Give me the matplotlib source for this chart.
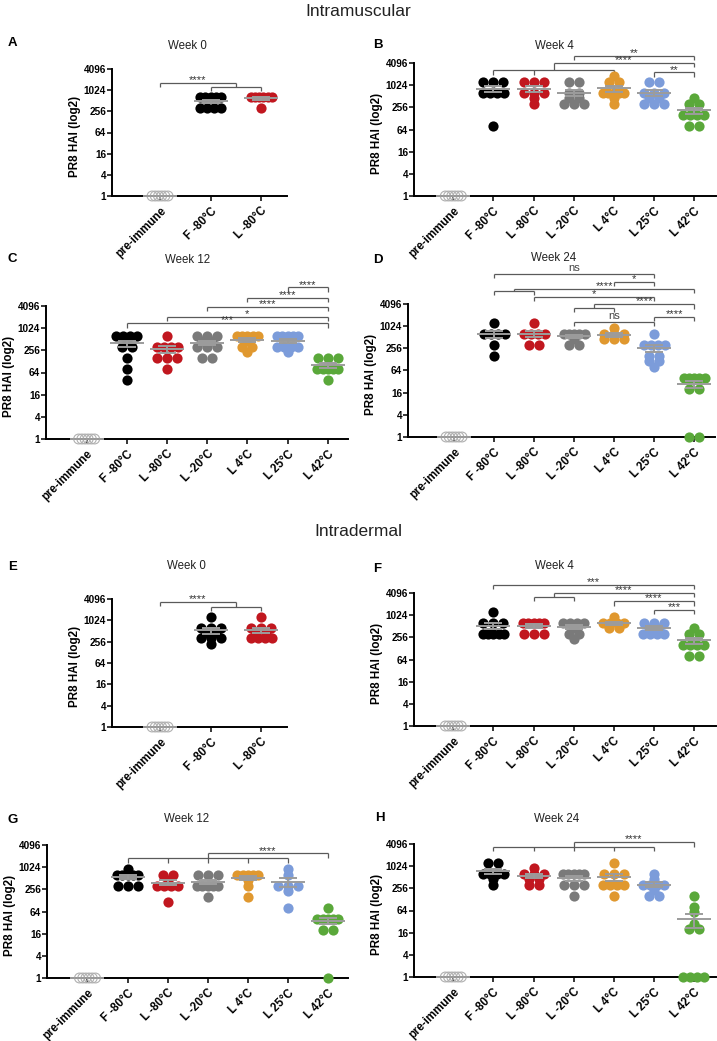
import numpy as np
import matplotlib
matplotlib.use('Agg')
import matplotlib.pyplot as plt

plt.rcParams['font.family'] = ['Liberation Sans', 'DejaVu Sans']

W, H = 717, 1041

groups = ['pre-immune', 'F -80°C', 'L -80°C', 'L -20°C', 'L 4°C', 'L 25°C', 'L 42°C']
group_colors = ['#a0a0a0', '#000000', '#c1171f', '#7a7a7a', '#e0982f', '#7c9cda', '#5aa83a']
yticks = [1, 4, 16, 64, 256, 1024, 4096]

pre_immune = [1, 1, 1, 1, 1, 1]

# HAI titres, one list per group
im_w0 = [pre_immune,
         [640, 640, 640, 640, 640, 320, 320, 320, 320],
         [640, 640, 640, 640, 640, 640, 320]]
im_w4 = [pre_immune,
         [1280, 1280, 1280, 640, 640, 640, 640, 80],
         [1280, 1280, 1280, 640, 640, 640, 453, 320],
         [1280, 1280, 640, 640, 453, 453, 320, 320, 320],
         [1810, 1280, 1280, 640, 640, 640, 640, 640, 453, 320],
         [1280, 1280, 640, 640, 640, 453, 453, 320, 320, 320],
         [453, 320, 320, 160, 160, 160, 160, 80, 80]]
im_w12 = [pre_immune,
          [640, 640, 640, 640, 453, 320, 320, 160, 80, 40],
          [640, 320, 320, 320, 320, 160, 160, 160, 80],
          [640, 640, 640, 453, 453, 320, 320, 320, 160, 160],
          [640, 640, 640, 640, 640, 453, 320, 320, 226],
          [640, 640, 640, 640, 640, 320, 320, 320, 320, 226],
          [160, 160, 160, 80, 80, 80, 80, 80, 40]]
im_w24 = [pre_immune,
          [1280, 640, 640, 640, 640, 320, 160],
          [1280, 640, 640, 640, 640, 320, 320],
          [640, 640, 640, 640, 640, 453, 320, 320],
          [905, 640, 640, 640, 453, 453, 453],
          [640, 320, 320, 320, 320, 160, 160, 113, 113, 80],
          [40, 40, 40, 40, 40, 20, 20, 1, 1]]

id_w0 = [pre_immune,
         [1280, 640, 640, 640, 453, 453, 320, 320, 320, 226],
         [1280, 640, 640, 640, 453, 453, 320, 320, 320, 320]]
id_w4 = [pre_immune,
         [1280, 640, 640, 640, 320, 320, 320, 320, 320],
         [640, 640, 640, 640, 640, 320, 320, 320],
         [640, 640, 640, 640, 453, 320, 320, 226],
         [905, 640, 640, 640, 640, 453, 453],
         [640, 640, 640, 453, 453, 320, 320, 320, 320],
         [453, 320, 320, 160, 160, 160, 160, 80, 80]]
id_w12 = [pre_immune,
          [905, 640, 640, 640, 640, 640, 320, 320, 320],
          [640, 640, 453, 320, 320, 320, 320, 113],
          [640, 640, 640, 320, 320, 320, 320, 320, 160],
          [640, 640, 640, 640, 640, 453, 320, 160],
          [905, 640, 320, 320, 320, 226, 80],
          [80, 40, 40, 40, 40, 40, 20, 20, 1]]
id_w24 = [pre_immune,
          [1280, 1280, 640, 640, 640, 640, 453, 320],
          [905, 640, 640, 640, 453, 453, 320, 320],
          [640, 640, 640, 640, 640, 320, 320, 320, 160],
          [1280, 640, 640, 640, 320, 320, 320, 320, 160],
          [640, 453, 320, 320, 320, 320, 226, 160, 160],
          [160, 80, 57, 28, 20, 20, 1, 1, 1, 1]]

# significance brackets: (left groups, right groups, height in log2, label, sub offset)
im_w0_sig = [([0], [1, 2], 10.71, '****', 0.44)]
im_w4_sig = [([3], [6], 12.66, '**', 0),
             ([1, 2, 4], [6], 12.0, '****', 0.66),
             ([5], [6], 11.15, '**', 0)]
im_w12_sig = [([5], [6], 13.68, '****', 0),
              ([4], [6], 12.71, '****', 0),
              ([3], [6], 11.94, '****', 0),
              ([2], [6], 11.04, '*', 0),
              ([1], [6], 10.44, '***', 0)]
im_w24_sig = [([1], [5], 14.71, 'ns', 0),
              ([4], [5], 14.02, '*', 0),
              ([1, 2], [6], 13.36, '****', 0.15),
              ([2], [5], 12.64, '*', 0),
              ([3, 4], [6], 11.97, '****', 0.3),
              ([5], [6], 10.86, '****', 0),
              ([3], [5], 10.35, 'ns', 0)]
id_w0_sig = [([0], [1, 2], 11.69, '****', 0.47)]
id_w4_sig = [([1], [6], 12.76, '***', 0),
             ([2, 3], [6], 12.0, '****', 0.36),
             ([4], [6], 11.25, '****', 0),
             ([5], [6], 10.49, '***', 0)]
id_w12_sig = [([1, 2, 3, 4, 5], [6], 11.24, '****', 0.45)]
id_w24_sig = [([1, 2, 3, 4, 5], [6], 12.15, '****', 0.39)]

# letter, title, data, brackets, axes box in px (l, t, r, b), xlim, letter xy, title xy
panels = [
    ('A', 'Week 0', im_w0, im_w0_sig, (112, 69, 287, 196), (-0.95, 2.51), (8, 43), (187, 46)),
    ('B', 'Week 4', im_w4, im_w4_sig, (414, 63, 716, 196), (-0.98, 6.55), (373, 45), (554, 46)),
    ('C', 'Week 12', im_w12, im_w12_sig, (46, 306, 348, 439), (-1.01, 6.5), (8, 259), (188, 260)),
    ('D', 'Week 24', im_w24, im_w24_sig, (408, 304, 715, 437), (-1.15, 6.52), (373, 260), (554, 258)),
    ('E', 'Week 0', id_w0, id_w0_sig, (112, 599, 287, 727), (-0.95, 2.51), (8, 567), (186, 566)),
    ('F', 'Week 4', id_w4, id_w4_sig, (414, 593, 716, 726), (-0.98, 6.55), (373, 569), (554, 566)),
    ('G', 'Week 12', id_w12, id_w12_sig, (47, 845, 348, 978), (-1.01, 6.5), (8, 820), (187, 819)),
    ('H', 'Week 24', id_w24, id_w24_sig, (414, 844, 716, 977), (-0.98, 6.55), (375, 818), (557, 819)),
]

LINE = '#9c9c9c'
BRK = '#5a5a5a'


def swarm(vals, pos, ppu, step, span):
    xs, ys = [], []
    for v in sorted(set(vals), reverse=True):
        k = vals.count(v)
        s = step if k < 2 else min(step, span / (k - 1))
        off = (np.arange(k) - (k - 1) / 2) * s / ppu
        xs.extend(pos + off)
        ys.extend([v] * k)
    return xs, ys


def bracket(ax, left, right, h, label, sub, tip=0.38):
    kw = dict(color=BRK, lw=0.9, clip_on=False, solid_capstyle='butt')

    def side(idx):
        if len(idx) == 1:
            ax.plot([idx[0], idx[0]], [2 ** h, 2 ** (h - tip)], **kw)
            return idx[0]
        hs = h - sub
        ax.plot([min(idx), max(idx)], [2 ** hs, 2 ** hs], **kw)
        for i in idx:
            ax.plot([i, i], [2 ** hs, 2 ** (hs - tip)], **kw)
        mid = (min(idx) + max(idx)) / 2
        ax.plot([mid, mid], [2 ** hs, 2 ** h], **kw)
        return mid

    xl = side(left)
    xr = side(right)
    ax.plot([xl, xr], [2 ** h, 2 ** h], **kw)
    if label == 'ns':
        ax.text((xl + xr) / 2, 2 ** (h + 0.08), label, ha='center', va='bottom',
                fontsize=8, color='#444444')
    else:
        ax.text((xl + xr) / 2, 2 ** (h - 0.2), label, ha='center', va='bottom',
                fontsize=8, color='#333333')


fig = plt.figure(figsize=(W / 100, H / 100), dpi=100)

fig.text(358.5 / W, 1 - 12 / H, 'Intramuscular', ha='center', va='center',
         fontsize=12.5, color='#222222')
fig.text(358.5 / W, 1 - 531 / H, 'Intradermal', ha='center', va='center',
         fontsize=12.5, color='#222222')

for letter, title, data, sig, box, xlim, lxy, txy in panels:
    l, t, r, b = box
    ax = fig.add_axes([l / W, 1 - b / H, (r - l) / W, (b - t) / H])
    ppu = (r - l) / (xlim[1] - xlim[0])
    n = len(data)

    for i, vals in enumerate(data):
        if i == 0:
            xs, ys = swarm(vals, i, ppu, 3.2, 16)
            ax.scatter(xs, ys, s=50, facecolors='none', edgecolors='#b0b0b0',
                       linewidths=0.8, clip_on=False, zorder=3)
        else:
            xs, ys = swarm(vals, i, ppu, 10, 21)
            ax.scatter(xs, ys, s=54, color=group_colors[i], linewidths=0,
                       clip_on=False, zorder=3)
        arr = np.array(vals, dtype=float)
        m = arr.mean()
        se = arr.std(ddof=1) / np.sqrt(len(arr))
        hw = 17 / ppu
        cw = 9 / ppu
        lk = dict(color=LINE, lw=1.4, clip_on=False, zorder=4, solid_capstyle='butt')
        ax.plot([i - hw, i + hw], [m, m], **lk)
        if se > 0:
            ax.plot([i, i], [m - se, m + se], **lk)
            ax.plot([i - cw, i + cw], [m + se, m + se], **lk)
            ax.plot([i - cw, i + cw], [m - se, m - se], **lk)

    for left, right, h, label, sub in sig:
        bracket(ax, left, right, h, label, sub)

    ax.set_yscale('log', base=2)
    ax.set_ylim(1, 4096)
    ax.set_xlim(*xlim)
    ax.set_yticks(yticks)
    ax.set_yticklabels([str(v) for v in yticks], fontweight='bold', fontsize=7.2)
    ax.yaxis.set_minor_locator(matplotlib.ticker.NullLocator())
    ax.set_xticks(range(n))
    ax.set_xticklabels(groups[:n], rotation=45, ha='right', va='top',
                       rotation_mode='anchor', fontweight='bold', fontsize=8.3)
    ax.tick_params(axis='both', direction='out', length=3.5, width=1.1)
    ax.tick_params(axis='y', pad=0.8)
    ax.tick_params(axis='x', pad=3)
    for s in ['top', 'right']:
        ax.spines[s].set_visible(False)
    for s in ['left', 'bottom']:
        ax.spines[s].set_linewidth(1.4)
    ax.patch.set_alpha(0)
    ax.set_ylabel('PR8 HAI (log2)', fontweight='bold', fontsize=8.4)
    ax.yaxis.set_label_coords(-31 / (r - l), 0.47)

    fig.text(lxy[0] / W, 1 - lxy[1] / H, letter, ha='left', va='center',
             fontsize=9.5, fontweight='bold')
    fig.text(txy[0] / W, 1 - txy[1] / H, title, ha='center', va='center',
             fontsize=8.3, color='#222222')

fig.savefig('out.png', dpi=100)
